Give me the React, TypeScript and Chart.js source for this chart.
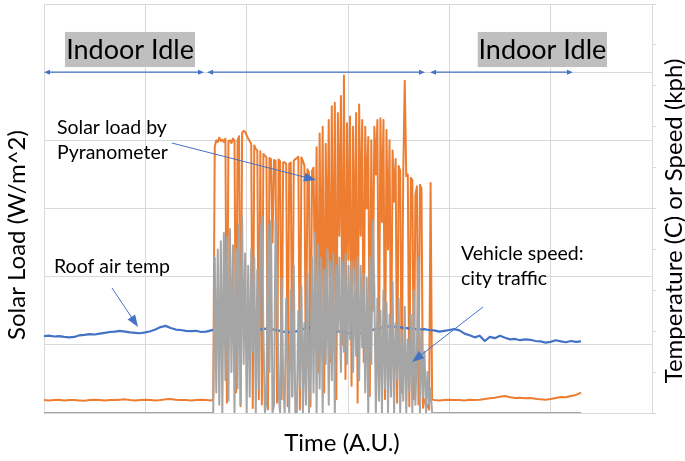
import React, { useEffect, useRef } from 'react';
import { Chart, registerables } from 'chart.js';

Chart.register(...registerables);

const FONT = 'Lato, "Open Sans", sans-serif';

// ---- axes ----
const TIME_MAX = 600;        // arbitrary time units, grid every 100
const TIME_STEP = 100;
const SOLAR_MAX = 1200;      // W/m^2, grid every 200
const SOLAR_STEP = 200;
const RIGHT_MAX = 100;       // temperature (C) or speed (kph), tick every 10
const RIGHT_STEP = 10;

// ---- roof air temperature (C), sampled every 5 time units from t=0 ----
const tempStart = 0;
const tempStep = 5;
const roofAirTemp = [
  18.8, 18.9, 18.7, 18.8, 18.6, 18.5, 18.6, 19.0, 19.1, 19.3,
  19.2, 19.4, 19.6, 19.8, 19.9, 20.1, 19.9, 19.7, 19.6, 19.5,
  19.7, 20.0, 20.4, 21.0, 21.3, 20.8, 20.4, 20.3, 20.1, 20.0,
  20.1, 19.8, 19.9, 20.2, 20.5, 20.9, 21.2, 21.0, 21.7, 22.0,
  21.5, 21.0, 20.6, 20.4, 20.7, 20.5, 20.2, 20.0, 19.7, 19.8,
  20.0, 20.4, 21.0, 20.6, 19.9, 19.6, 19.5, 19.7, 20.0, 19.8,
  19.5, 19.6, 19.4, 19.7, 20.1, 20.4, 20.6, 21.0, 21.2, 21.1,
  21.0, 20.8, 20.7, 20.6, 20.4, 20.5, 20.3, 20.2, 19.9, 20.1,
  20.3, 20.5, 20.2, 19.4, 19.0, 18.5, 18.9, 17.6, 18.6, 18.3,
  18.9, 18.4, 18.0, 18.1, 17.8, 18.0, 17.9, 17.6, 17.5, 17.2,
  17.4, 17.8, 17.5, 17.3, 17.6, 17.4, 17.5,
];

// ---- solar load (W/m^2) ----
// indoor idle before driving: every 5 units from t=0
const idleBeforeStart = 0;
const idleBeforeStep = 5;
const solarIdleBefore = [
  38, 37, 38, 39, 37, 38, 38, 37, 36, 38,
  39, 38, 37, 38, 38, 39, 40, 38, 37, 38,
  39, 38, 37, 38, 40, 41, 39, 38, 38, 37,
  38, 39, 38, 37,
];
// driving in city traffic: every 1.5 units from t=167
const driveStart = 167;
const driveStep = 1.5;
const solarDrive = [
  40, 780, 800, 795, 808, 798, 802, 795, 805, 30,
  798, 800, 792, 805, 798, 60, 800, 812, 20, 822,
  828, 825, 815, 805, 798, 790, 15, 785, 775, 770,
  40, 768, 25, 760, 755, 750, 10, 748, 745, 500,
  742, 740, 30, 744, 738, 40, 735, 736, 730, 20,
  732, 735, 50, 740, 745, 748, 752, 10, 750, 740,
  725, 60, 715, 705, 20, 710, 720, 350, 780, 120,
  820, 300, 840, 60, 790, 400, 860, 150, 900, 250,
  910, 40, 880, 520, 930, 200, 990, 100, 850, 450,
  870, 80, 840, 380, 880, 30, 905, 520, 860, 150,
  840, 600, 810, 50, 800, 300, 840, 700, 860, 120,
  865, 560, 860, 40, 830, 480, 800, 90, 770, 620,
  745, 30, 725, 710, 60, 700, 975, 695, 700, 20,
  690, 682, 40, 640, 665, 25, 670, 660, 15, 40,
  30, 20, 10, 675, 40,
];
// vehicle speed (kph) while driving, same sampling as solarDrive
const speedDrive = [
  0, 38, 5, 40, 2, 42, 0, 44, 8, 43,
  3, 45, 10, 41, 0, 40, 6, 46, 2, 48,
  12, 39, 0, 36, 4, 40, 15, 38, 0, 35,
  6, 42, 48, 20, 0, 3, 46, 10, 47, 0,
  2, 47, 30, 5, 0, 33, 8, 0, 28, 12,
  0, 30, 4, 36, 0, 0, 25, 6, 31, 0,
  22, 2, 34, 0, 10, 38, 5, 44, 0, 41,
  6, 38, 0, 35, 12, 40, 2, 37, 8, 39,
  0, 36, 20, 38, 10, 37, 15, 39, 12, 36,
  18, 37, 10, 35, 14, 38, 8, 36, 16, 34,
  5, 33, 0, 38, 12, 47, 30, 0, 28, 3,
  25, 0, 30, 6, 27, 0, 24, 4, 32, 0,
  22, 8, 28, 0, 20, 3, 26, 0, 18, 5,
  24, 0, 30, 2, 16, 38, 0, 20, 4, 15,
  0, 10, 2, 6, 0,
];
// indoor idle after driving: every 5 units from t=385
const idleAfterStart = 385;
const idleAfterStep = 5;
const solarIdleAfter = [
  38, 37, 38, 39, 38, 38, 37, 39, 38, 39,
  41, 43, 45, 48, 50, 46, 44, 45, 43, 44,
  42, 40, 39, 41, 44, 47, 46, 50, 53, 60,
];
// vehicle parked while idle
const speedIdleTimes = [0, 165, 385, 530];
const speedIdle = [0, 0, 0, 0];

const COLORS = {
  solar: '#ED7D31',
  temp: '#4472C4',
  speed: '#A5A5A5',
  grid: '#D9D9D9',
  arrow: '#4472C4',
  box: '#BFBFBF',
};

type Pt = { x: number; y: number };
const sampled = (vals: number[], t0: number, dt: number): Pt[] =>
  vals.map((v, i) => ({ x: t0 + i * dt, y: v }));

const solarPoints: Pt[] = [
  ...sampled(solarIdleBefore, idleBeforeStart, idleBeforeStep),
  ...sampled(solarDrive, driveStart, driveStep),
  ...sampled(solarIdleAfter, idleAfterStart, idleAfterStep),
];
const speedPoints: Pt[] = [
  { x: speedIdleTimes[0], y: speedIdle[0] },
  { x: speedIdleTimes[1], y: speedIdle[1] },
  ...sampled(speedDrive, driveStart, driveStep),
  { x: speedIdleTimes[2], y: speedIdle[2] },
  { x: speedIdleTimes[3], y: speedIdle[3] },
];
const tempPoints: Pt[] = sampled(roofAirTemp, tempStart, tempStep);

function drawArrow(ctx: CanvasRenderingContext2D, x1: number, y1: number, x2: number, y2: number, len: number, wid: number) {
  const a = Math.atan2(y2 - y1, x2 - x1);
  const c = Math.cos(a), s = Math.sin(a);
  ctx.beginPath();
  ctx.moveTo(x1, y1);
  ctx.lineTo(x2 - c * len * 0.7, y2 - s * len * 0.7);
  ctx.stroke();
  ctx.beginPath();
  ctx.moveTo(x2, y2);
  ctx.lineTo(x2 - c * len + s * wid / 2, y2 - s * len - c * wid / 2);
  ctx.lineTo(x2 - c * len - s * wid / 2, y2 - s * len + c * wid / 2);
  ctx.closePath();
  ctx.fill();
}

function drawDouble(ctx: CanvasRenderingContext2D, x1: number, x2: number, y: number) {
  const len = 6, wid = 5;
  ctx.beginPath();
  ctx.moveTo(x1 + len * 0.7, y);
  ctx.lineTo(x2 - len * 0.7, y);
  ctx.stroke();
  ctx.beginPath();
  ctx.moveTo(x1, y); ctx.lineTo(x1 + len, y - wid / 2); ctx.lineTo(x1 + len, y + wid / 2); ctx.closePath(); ctx.fill();
  ctx.beginPath();
  ctx.moveTo(x2, y); ctx.lineTo(x2 - len, y - wid / 2); ctx.lineTo(x2 - len, y + wid / 2); ctx.closePath(); ctx.fill();
}

const annotationPlugin = {
  id: 'figureAnnotations',
  afterDraw(chart: any) {
    const ctx: CanvasRenderingContext2D = chart.ctx;
    const xs = chart.scales.x;
    const ys = chart.scales.y;
    const px = (t: number) => xs.getPixelForValue(t);
    const py = (v: number) => ys.getPixelForValue(v);
    ctx.save();

    // phase boxes
    ctx.fillStyle = COLORS.box;
    ctx.fillRect(px(20.7), py(1118), px(149) - px(20.7), py(1015) - py(1118));
    ctx.fillRect(px(428), py(1118), px(555.6) - px(428), py(1015) - py(1118));
    ctx.fillStyle = '#000';
    ctx.font = `27px ${FONT}`;
    ctx.textAlign = 'center';
    ctx.textBaseline = 'middle';
    ctx.fillText('Indoor Idle', px(84.9), py(1064));
    ctx.fillText('Indoor Idle', px(491.8), py(1064));

    // phase arrows
    ctx.strokeStyle = COLORS.arrow;
    ctx.fillStyle = COLORS.arrow;
    ctx.lineWidth = 1.2;
    const ay = py(1000);
    drawDouble(ctx, px(0), px(157.9), ay);
    drawDouble(ctx, px(160.9), px(376), ay);
    drawDouble(ctx, px(381), px(522), ay);

    // callout arrows
    ctx.lineWidth = 1;
    drawArrow(ctx, px(126.3), py(792), px(268.4), py(683.6), 12, 9);
    drawArrow(ctx, px(67.1), py(366.8), px(92.8), py(252.3), 12, 9);
    drawArrow(ctx, px(433.2), py(311), px(363.2), py(149.6), 12, 9);

    // callout labels
    ctx.fillStyle = '#000';
    ctx.font = `19.5px ${FONT}`;
    ctx.textAlign = 'left';
    ctx.textBaseline = 'alphabetic';
    ctx.fillText('Solar load by', px(12.8), py(818.6));
    ctx.fillText('Pyranometer', px(12.8), py(745));
    ctx.fillText('Roof air temp', px(9.9), py(410.8));
    ctx.fillText('Vehicle speed:', px(411.5), py(449));
    ctx.fillText('city traffic', px(411.5), py(375.6));

    // axis titles
    ctx.font = `24px ${FONT}`;
    ctx.textAlign = 'center';
    ctx.textBaseline = 'middle';
    ctx.fillText('Time (A.U.)', 342, 443);
    ctx.save();
    ctx.translate(17, 235);
    ctx.rotate(-Math.PI / 2);
    ctx.fillText('Solar Load (W/m^2)', 0, 0);
    ctx.restore();
    ctx.save();
    ctx.translate(674, 221);
    ctx.rotate(-Math.PI / 2);
    ctx.fillText('Temperature (C) or Speed (kph)', 0, 0);
    ctx.restore();

    ctx.restore();
  },
};

export default function App() {
  const ref = useRef<HTMLCanvasElement | null>(null);
  useEffect(() => {
    if (!ref.current) return;
    const line = { pointRadius: 0, tension: 0, borderJoinStyle: 'round' as const };
    const chart = new Chart(ref.current, {
      type: 'line',
      data: {
        datasets: [
          { label: 'Vehicle speed: city traffic', data: speedPoints, yAxisID: 'y1', borderColor: COLORS.speed, borderWidth: 2, ...line },
          { label: 'Roof air temp', data: tempPoints, yAxisID: 'y1', borderColor: COLORS.temp, borderWidth: 2.2, ...line },
          { label: 'Solar load by Pyranometer', data: solarPoints, yAxisID: 'y', borderColor: COLORS.solar, borderWidth: 2, ...line },
        ],
      },
      options: {
        responsive: false,
        animation: false,
        events: [],
        layout: { padding: { top: 4, left: 0, right: 0, bottom: 0 } },
        plugins: { legend: { display: false }, tooltip: { enabled: false } },
        scales: {
          x: {
            type: 'linear',
            min: 0,
            max: TIME_MAX,
            ticks: { display: false, stepSize: TIME_STEP },
            grid: { color: COLORS.grid, drawTicks: false, lineWidth: 1 },
            border: { color: COLORS.grid },
            afterFit: (s: any) => { s.height = 48; },
          },
          y: {
            position: 'left',
            min: 0,
            max: SOLAR_MAX,
            ticks: { display: false, stepSize: SOLAR_STEP },
            grid: { color: COLORS.grid, drawTicks: false, lineWidth: 1 },
            border: { color: COLORS.grid },
            afterFit: (s: any) => { s.width = 44; },
          },
          y1: {
            position: 'right',
            min: 0,
            max: RIGHT_MAX,
            ticks: { display: false, stepSize: RIGHT_STEP },
            grid: { drawOnChartArea: false, drawTicks: true, tickLength: 4, color: COLORS.grid },
            border: { color: COLORS.grid },
            afterFit: (s: any) => { s.width = 33; },
          },
        },
      },
      plugins: [annotationPlugin],
    });
    return () => chart.destroy();
  }, []);
  return (
    <div style={{ position: 'absolute', left: 0, top: 0, width: 685, height: 461, background: '#fff' }}>
      <canvas ref={ref} width={685} height={461} style={{ display: 'block' }} />
    </div>
  );
}
